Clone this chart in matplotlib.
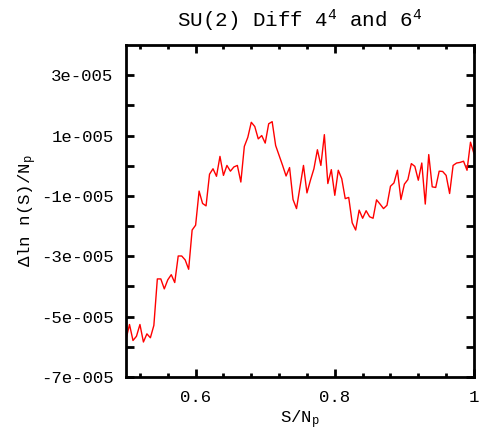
import numpy as np
import matplotlib
matplotlib.use("Agg")
import matplotlib.pyplot as plt
from matplotlib.ticker import FixedLocator, FuncFormatter

# data (y in units of 1e-5)
s_np = [0.500, 0.505, 0.510, 0.515, 0.520, 0.525, 0.530, 0.535, 0.540, 0.545,
        0.550, 0.555, 0.560, 0.565, 0.570, 0.575, 0.580, 0.585, 0.590, 0.595,
        0.600, 0.605, 0.610, 0.615, 0.620, 0.625, 0.630, 0.635, 0.640, 0.645,
        0.650, 0.655, 0.660, 0.665, 0.670, 0.675, 0.680, 0.685, 0.690, 0.695,
        0.700, 0.705, 0.710, 0.715, 0.720, 0.725, 0.730, 0.735, 0.740, 0.745,
        0.750, 0.755, 0.760, 0.765, 0.770, 0.775, 0.780, 0.785, 0.790, 0.795,
        0.800, 0.805, 0.810, 0.815, 0.820, 0.825, 0.830, 0.835, 0.840, 0.845,
        0.850, 0.855, 0.860, 0.865, 0.870, 0.875, 0.880, 0.885, 0.890, 0.895,
        0.900, 0.905, 0.910, 0.915, 0.920, 0.925, 0.930, 0.935, 0.940, 0.945,
        0.950, 0.955, 0.960, 0.965, 0.970, 0.975, 0.980, 0.985, 0.990, 0.995,
        1.000]
diff = [-5.75, -5.26, -5.79, -5.65, -5.26, -5.84, -5.57, -5.70, -5.29, -3.75,
        -3.75, -4.08, -3.78, -3.61, -3.87, -2.99, -2.99, -3.12, -3.43, -2.13,
        -1.97, -0.84, -1.25, -1.33, -0.28, -0.10, -0.35, 0.31, -0.32, 0.01,
        -0.18, -0.04, 0.01, -0.54, 0.64, 0.94, 1.44, 1.30, 0.89, 1.00,
        0.75, 1.39, 1.46, 0.67, 0.34, 0.01, -0.34, -0.06, -1.12, -1.42,
        -0.70, 0.01, -0.90, -0.48, -0.10, 0.53, 0.01, 1.03, -0.59, -0.13,
        -0.98, -0.15, -0.43, -1.09, -1.05, -1.89, -2.13, -1.47, -1.74, -1.49,
        -1.69, -1.74, -1.13, -1.27, -1.42, -1.31, -0.68, -0.57, -0.15, -1.12,
        -0.61, -0.46, 0.07, -0.02, -0.48, 0.09, -1.27, 0.37, -0.70, -0.72,
        -0.18, -0.19, -0.32, -0.92, 0.01, 0.09, 0.11, 0.15, -0.15, 0.78,
        0.40]

x_major = [0.6, 0.8, 1.0]
x_minor = [0.52, 0.56, 0.64, 0.68, 0.72, 0.76, 0.84, 0.88, 0.92, 0.96]
y_major = [-7e-5, -5e-5, -3e-5, -1e-5, 1e-5, 3e-5]
y_minor = [-6e-5, -4e-5, -2e-5, 0.0, 2e-5]

plt.rcParams['font.family'] = ['Liberation Mono', 'DejaVu Sans']
plt.rcParams['mathtext.default'] = 'regular'


def old_e(v, pos):
    # gnuplot/windows style exponent: 3e-005
    m, e = f"{v:.0e}".split("e")
    return f"{m}e{int(e):+04d}".replace("+", "")


fig = plt.figure(figsize=(4.81, 4.34), dpi=100)
ax = fig.add_axes([0.262, 0.1313, 0.7234, 0.765])

ax.plot(s_np, np.array(diff) * 1e-5, color='red', lw=1.0)

ax.set_xlim(0.5, 1.0)
ax.set_ylim(-7e-5, 4e-5)
ax.xaxis.set_major_locator(FixedLocator(x_major))
ax.xaxis.set_minor_locator(FixedLocator(x_minor))
ax.yaxis.set_major_locator(FixedLocator(y_major))
ax.yaxis.set_minor_locator(FixedLocator(y_minor))
ax.xaxis.set_major_formatter(FuncFormatter(lambda v, p: f"{v:g}"))
ax.yaxis.set_major_formatter(FuncFormatter(old_e))

ax.tick_params(which='both', direction='in', top=True, right=True,
               width=2, labelsize=12.5, pad=9)
ax.tick_params(which='major', length=6)
ax.tick_params(axis='x', which='minor', length=3)
ax.tick_params(axis='y', which='minor', length=6)
for sp in ax.spines.values():
    sp.set_linewidth(2)

ax.set_title("SU(2) Diff $4^4$ and $6^4$", fontsize=15, pad=13)
ax.set_xlabel("S/N$_p$", fontsize=12.5, labelpad=3)
ax.set_ylabel("Δln n(S)/N$_p$", fontsize=12.5, labelpad=1.5)

fig.savefig("out.png", dpi=100)
